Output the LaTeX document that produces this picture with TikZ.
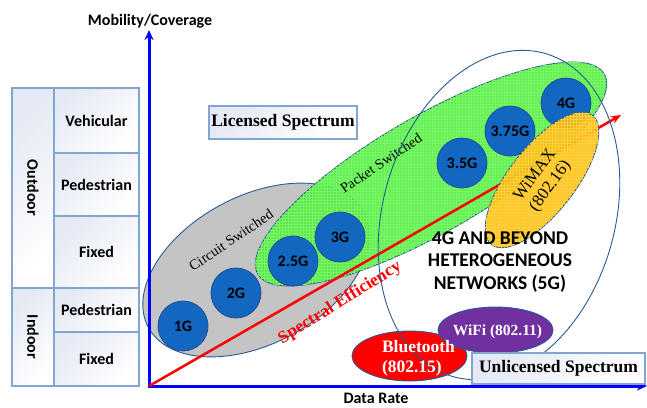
\documentclass[tikz,border=0pt]{standalone}
\usepackage{fontspec}
\setmainfont{Liberation Serif}
\setsansfont{Carlito}
\usetikzlibrary{shapes.geometric,arrows.meta,patterns}
\definecolor{axisblue}{RGB}{0,0,255}
\definecolor{tblc}{RGB}{130,166,208}
\definecolor{cellf}{RGB}{228,233,243}
\definecolor{edgec}{RGB}{40,90,150}
\definecolor{grayf}{RGB}{196,196,196}
\definecolor{greenf}{RGB}{80,232,64}
\definecolor{greenp}{RGB}{120,250,100}
\definecolor{circf}{RGB}{18,104,192}
\definecolor{circd}{RGB}{35,80,140}
\definecolor{orangef}{RGB}{255,190,0}
\definecolor{orangep}{RGB}{255,208,70}
\definecolor{purplef}{RGB}{112,48,160}
\definecolor{redf}{RGB}{255,0,0}
\tikzset{
  cell/.style={draw=tblc, line width=1.2pt, top color=cellf, bottom color=white, shading angle=45, inner sep=0pt},
  lab/.style={font=\sffamily\bfseries\fontsize{16}{19}\selectfont, inner sep=0pt},
  gen/.style={circle, draw=circd, line width=0.8pt, fill=circf, minimum size=50pt, inner sep=0pt,
              font=\sffamily\bfseries\fontsize{16}{19}\selectfont},
  oval/.style={ellipse, draw=edgec, line width=0.9pt, inner sep=0pt},
  specbox/.style={draw=tblc, line width=1.5pt, top color=cellf, bottom color=white, shading angle=45,
              font=\bfseries\fontsize{17.5}{20}\selectfont, inner sep=0pt},
  axisline/.style={axisblue, line width=3pt, line join=miter},
}
\begin{document}
\begin{tikzpicture}[x=1pt,y=-1pt]
\useasboundingbox (0,0) rectangle (647,407);

% ---- left table ----
\node[cell, minimum width=42pt, minimum height=200pt] (outc) at (33,188) {};
\node[cell, minimum width=42pt, minimum height=98pt] (inc) at (33,337) {};
\node[cell, minimum width=85pt, minimum height=65pt] (veh) at (96.5,120.5) {};
\node[cell, minimum width=85pt, minimum height=63pt] (ped1) at (96.5,184.5) {};
\node[cell, minimum width=85pt, minimum height=72pt] (fix1) at (96.5,252) {};
\node[cell, minimum width=85pt, minimum height=44pt] (ped2) at (96.5,310) {};
\node[cell, minimum width=85pt, minimum height=54pt] (fix2) at (96.5,359) {};
\node[lab] (vehT) at (veh) {Vehicular};
\node[lab] (ped1T) at (ped1) {Pedestrian};
\node[lab] (fix1T) at (fix1) {Fixed};
\node[lab] (ped2T) at (ped2) {Pedestrian};
\node[lab] (fix2T) at (fix2) {Fixed};
\node[lab, rotate=-90] (outT) at (outc) {Outdoor};
\node[lab, rotate=-90] (inT) at (inc) {Indoor};

% ---- licensed box ----
\node[specbox, minimum width=148pt, minimum height=33pt] (lic) at (283,122.5) {Licensed Spectrum};

% ---- regions ----
\node[oval, fill=grayf, minimum width=244pt, minimum height=148pt, rotate=28] (cs) at (256,270) {};
\node[oval, fill=greenf, fill opacity=0.88, minimum width=400pt, minimum height=116pt, rotate=30,
      postaction={pattern=grid, pattern color=greenp}] (ps) at (431,174) {};

\node[font=\fontsize{14.5}{16}\selectfont, rotate=34] (csT) at (231,240) {Circuit Switched};
\node[font=\fontsize{14.3}{16}\selectfont, rotate=34] (psT) at (381,163) {Packet Switched};

% ---- generations ----
\node[gen] (g1) at (183,326) {1G};
\node[gen] (g2) at (236,293) {2G};
\node[gen] (g25) at (293,261) {2.5G};
\node[gen] (g3) at (340,237) {3G};
\node[gen] (g35) at (462,163) {3.5G};
\node[gen] (g375) at (510,131) {3.75G};
\node[gen] (g4) at (566,103) {4G};

% ---- axes ----
\coordinate (O) at (149,386);
\coordinate (ytop) at (149,30);
\coordinate (xend) at (647,386);
\draw[axisline, {Stealth[length=10pt,width=9pt]}-{Stealth[length=10pt,width=9pt]}] (ytop) -- (O) -- (xend);
\node[lab] (ylab) at (150,21) {Mobility/Coverage};
\node[lab] (xlab) at (376,398) {Data Rate};

% ---- spectral efficiency ----
\coordinate (se1) at (621,115);
\draw[redf, line width=2.5pt, -{Stealth[length=10pt,width=8pt]}] (O) -- (se1);
\node[text=redf, font=\bfseries\fontsize{17.5}{19}\selectfont, rotate=32] (seT) at (340,303) {Spectral Efficiency};

% ---- WiMAX ----
\node[oval, fill=orangef, fill opacity=0.88, minimum width=164pt, minimum height=66pt, rotate=52,
      postaction={pattern=grid, pattern color=orangep}] (wim) at (542,180) {};
\node[font=\fontsize{17}{19}\selectfont, rotate=54, align=center] (wimT) at (543,181) {WiMAX\\(802.16)};

% ---- unlicensed ----
\node[oval, fill=redf, minimum width=115pt, minimum height=50pt] (bt) at (409.5,356) {};
\node[oval, fill=purplef, minimum width=115pt, minimum height=46pt] (wifi) at (495.5,330) {};
\node[oval, minimum width=336pt, minimum height=232pt, rotate=74] (het5g) at (499,215) {};
\node[text=white, font=\bfseries\fontsize{17.5}{20}\selectfont, align=left] (btT) at (418.5,358) {Bluetooth\\(802.15)};
\node[text=white, font=\bfseries\fontsize{15.5}{18}\selectfont] (wifiT) at (497.5,332) {WiFi (802.11)};
\node[specbox, minimum width=173pt, minimum height=31pt] (unl) at (558.5,368.5) {Unlicensed Spectrum};

\node[align=center, font=\sffamily\bfseries\fontsize{19.5}{22.5}\selectfont] (hetT) at (500,262) {4G AND BEYOND\\HETEROGENEOUS\\NETWORKS (5G)};
\end{tikzpicture}
\end{document}
